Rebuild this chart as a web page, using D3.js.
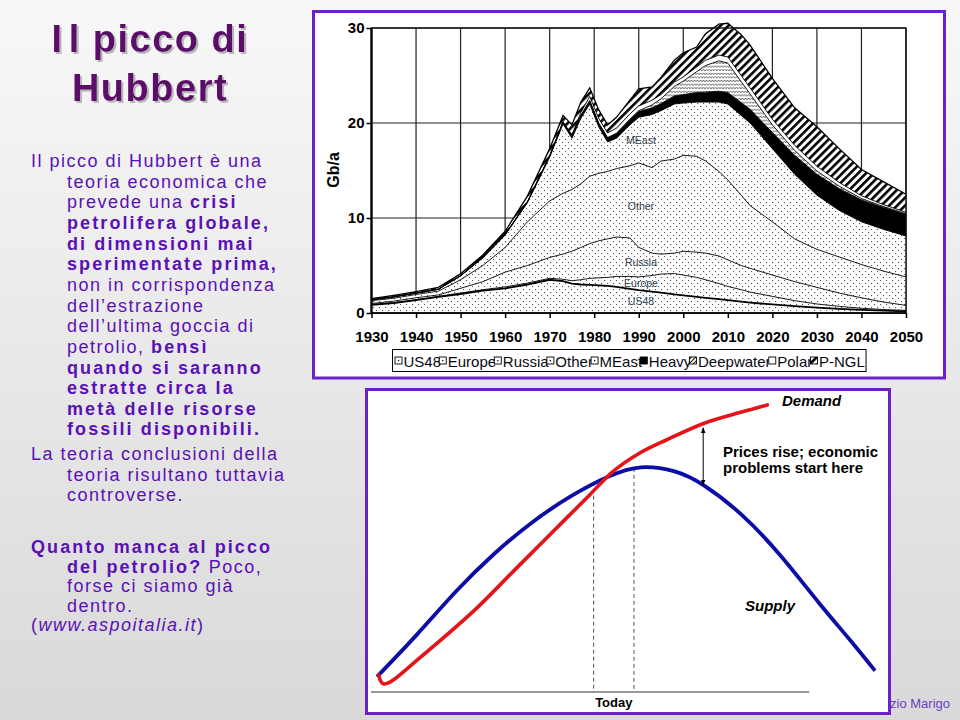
<!DOCTYPE html>
<html><head><meta charset="utf-8">
<script src="https://cdn.jsdelivr.net/npm/d3@7/dist/d3.min.js"></script>
<style>
html,body{margin:0;padding:0;background:#fff;}
svg{display:block;font-family:"Liberation Sans",Arial,sans-serif;}
</style></head><body>
<svg id="slide" width="960" height="720"></svg>
<script>
// ---------------- DATA: world oil production (Gb/a) by layer ----------------
const years     = [1930,1935,1940,1945,1950,1955,1960,1965,1970,1973,1975,1977,1979,1981,1983,1985,1988,1990,1993,1995,1998,2000,2003,2005,2008,2010,2013,2015,2020,2025,2030,2035,2040,2045,2050];
const us48      = [0.85,1.05,1.35,1.7,2.0,2.35,2.6,3.0,3.5,3.35,3.1,3.0,2.95,2.9,2.85,2.75,2.55,2.4,2.25,2.15,1.95,1.85,1.7,1.6,1.45,1.35,1.2,1.1,0.9,0.72,0.56,0.43,0.33,0.25,0.18];
const europe    = [0.05,0.05,0.05,0.05,0.1,0.1,0.15,0.15,0.15,0.2,0.3,0.5,0.7,0.8,0.9,1.1,1.3,1.4,1.7,1.95,2.2,2.15,2.05,1.9,1.65,1.45,1.25,1.1,0.85,0.58,0.39,0.27,0.17,0.11,0.1];
const russia    = [0.1,0.15,0.2,0.15,0.5,0.85,1.55,1.85,2.2,2.65,3.1,3.4,3.65,3.9,4.05,4.15,4.05,3.1,2.35,2.1,2.15,2.5,2.65,2.8,2.9,2.8,2.55,2.5,2.25,2.0,1.75,1.4,1.1,0.79,0.52];
const other     = [0.3,0.3,0.35,0.4,0.9,1.7,2.6,4.6,5.95,6.4,6.5,6.7,7.1,7.1,7.1,7.2,7.6,8.9,9.0,9.8,9.9,10.1,10.1,9.7,8.9,8.4,7.4,6.6,5.6,4.5,4.0,3.8,3.5,3.25,3.0];
const meast     = [0.1,0.15,0.15,0.2,0.4,0.8,1.3,2.0,4.6,7.3,5.4,6.9,7.6,4.9,3.1,3.2,4.3,4.8,5.6,5.3,5.8,5.5,5.7,6.2,7.3,8.0,8.4,8.7,7.7,6.8,5.7,4.9,4.5,4.4,4.3];
const heavy     = [0,0,0,0,0.02,0.05,0.05,0.1,0.15,0.2,0.25,0.3,0.35,0.4,0.45,0.5,0.55,0.6,0.7,0.75,0.85,0.9,1.0,1.05,1.15,1.2,1.35,1.45,1.7,2.0,2.2,2.3,2.3,2.3,2.3];
const deepwater = [0,0,0,0,0,0,0,0,0,0,0,0,0,0,0,0,0.05,0.1,0.3,0.5,1.0,1.4,2.2,2.8,3.2,3.1,2.2,1.6,0.8,0.5,0.35,0.25,0.15,0.1,0.05];
const polar     = [0,0,0,0,0,0,0,0,0,0,0.1,0.3,0.45,0.5,0.5,0.55,0.55,0.5,0.5,0.45,0.45,0.45,0.5,0.55,0.6,0.65,0.65,0.65,0.6,0.55,0.5,0.4,0.3,0.2,0.15];
const pngl      = [0.1,0.15,0.15,0.2,0.2,0.25,0.35,0.6,0.75,0.7,1.05,1.1,0.9,0.9,0.85,1.15,1.45,1.8,1.4,1.8,2.3,2.55,2.1,2.8,3.25,3.55,4.3,4.5,4.3,3.95,4.15,3.55,2.75,2.4,1.9];
const layerNames  = ["US48","Europe","Russia","Other","MEast","Heavy","Deepwater","Polar","P-NGL"];
const layerLabels = ["US48","Europe","Russia","Other","MEast"];
const labelYear = 1990.5;
const xTicks = [1930,1940,1950,1960,1970,1980,1990,2000,2010,2020,2030,2040,2050];
const yTicks = [0,10,20,30];

// ---------------- DATA: supply / demand sketch ----------------
const supplyT = [0,8.1,15.8,23.5,31.2,38.8,46.5,53,59.6,65.7,73.4,81.1,88.8,94.9,100];
const supplyV = [5.1,19.3,33.4,46.0,56.6,65.1,71.8,74.9,73.6,68.8,58.8,45.3,29.6,17.5,7.1];
const demandT = [0.4,0.7,1.3,2.7,8.1,19.6,27.3,35,42.7,47.3,52.7,58.1,65.7,73.4,78.4];
const demandV = [5.7,3.7,2.7,3.4,10.7,27.3,40.1,52.9,65.7,73.4,79.6,84,89.6,93.4,95.7];
const todayT  = [43.5,51.6];
const todayV  = [70.1,74.7];
const gapT = 65.5, gapDemand = 88.4, gapSupply = 68.7;
const baseT = [-1.2, 86.8];

// ---------------- TEXT ----------------
const titleLines = ["Il picco di","Hubbert"];
const body1 = [
 [0,[["Il picco di Hubbert è una",0]]],
 [1,[["teoria economica che",0]]],
 [1,[["prevede una ",0],["crisi",1]]],
 [1,[["petrolifera globale,",1]]],
 [1,[["di dimensioni mai",1]]],
 [1,[["sperimentate prima,",1]]],
 [1,[["non in corrispondenza",0]]],
 [1,[["dell’estrazione",0]]],
 [1,[["dell’ultima goccia di",0]]],
 [1,[["petrolio, ",0],["bensì",1]]],
 [1,[["quando si saranno",1]]],
 [1,[["estratte circa la",1]]],
 [1,[["metà delle risorse",1]]],
 [1,[["fossili disponibili.",1]]]
];
const body2 = [
 [0,[["La teoria conclusioni della",0]]],
 [1,[["teoria risultano tuttavia",0]]],
 [1,[["controverse.",0]]]
];
const body3 = [
 [0,[["Quanto manca al picco",1]]],
 [1,[["del petrolio?",1],[" Poco,",0]]],
 [1,[["forse ci siamo già",0]]],
 [1,[["dentro.",0]]],
 [0,[["(",0],["www.aspoitalia.it",2],[")",0]]]
];

// ================= DRAW =================
const svg = d3.select("#slide");
const defs = svg.append("defs");

const bg = defs.append("linearGradient").attr("id","bg").attr("x1",0).attr("y1",0).attr("x2",0).attr("y2",1);
bg.append("stop").attr("offset","0").attr("stop-color","#f8f8f8");
bg.append("stop").attr("offset","1").attr("stop-color","#d9d9d9");
svg.append("rect").attr("width",960).attr("height",720).attr("fill","url(#bg)");

const shadow = defs.append("filter").attr("id","shadow").attr("x","-10%").attr("y","-10%").attr("width","130%").attr("height","130%");
shadow.append("feDropShadow").attr("dx",2).attr("dy",2).attr("stdDeviation",0.6).attr("flood-color","#b8b8b8").attr("flood-opacity",1);

// patterns
const pDots = defs.append("pattern").attr("id","dots").attr("patternUnits","userSpaceOnUse").attr("width",6).attr("height",6);
pDots.append("rect").attr("width",6).attr("height",6).attr("fill","#fff");
pDots.append("rect").attr("x",1).attr("y",1).attr("width",1.1).attr("height",1.1).attr("fill","#555");
pDots.append("rect").attr("x",4).attr("y",4).attr("width",1.1).attr("height",1.1).attr("fill","#555");
const pWave = defs.append("pattern").attr("id","wave").attr("patternUnits","userSpaceOnUse").attr("width",6).attr("height",3.6);
pWave.append("rect").attr("width",6).attr("height",3.6).attr("fill","#fff");
pWave.append("path").attr("d","M0,2.6 L1.5,0.9 L3,2.6 L4.5,0.9 L6,2.6").attr("fill","none").attr("stroke","#222").attr("stroke-width",0.7);
const pHatch = defs.append("pattern").attr("id","hatch").attr("patternUnits","userSpaceOnUse").attr("width",5.6).attr("height",5.6).attr("patternTransform","rotate(45)");
pHatch.append("rect").attr("width",5.6).attr("height",5.6).attr("fill","#fff");
pHatch.append("rect").attr("width",2.6).attr("height",5.6).attr("fill","#000");
const pHatch2 = defs.append("pattern").attr("id","hatch2").attr("patternUnits","userSpaceOnUse").attr("width",3).attr("height",3).attr("patternTransform","rotate(45)");
pHatch2.append("rect").attr("width",3).attr("height",3).attr("fill","#fff");
pHatch2.append("rect").attr("width",0.9).attr("height",3).attr("fill","#000");
const fills = ["url(#dots)","url(#dots)","url(#dots)","url(#dots)","url(#dots)","#000","url(#wave)","#fff","url(#hatch)"];

// ---------- title ----------
const titleG = svg.append("g").attr("font-weight","bold").attr("font-size",38).attr("text-anchor","middle")
  .attr("letter-spacing",1.5).attr("fill","#5b0b6b").attr("filter","url(#shadow)");
titleLines.forEach((t,i)=>{
  const tx = titleG.append("text").attr("x",150).attr("y",52+i*49);
  if(i===0){ tx.append("tspan").text("I"); tx.append("tspan").attr("dx",5).text("l picco di"); }
  else tx.text(t);
});

// ---------- body text ----------
function writeBlock(lines, y0, step){
  const g = svg.append("g").attr("font-size",18).attr("fill","#5a10b6");
  lines.forEach(([ind,segs],i)=>{
    const t = g.append("text").attr("x", ind ? 67 : 31).attr("y", y0 + i*step);
    segs.forEach(([s,st])=>{
      const ts = t.append("tspan").text(s);
      if(st===1) ts.attr("font-weight","bold").attr("letter-spacing",2.1);
      else ts.attr("letter-spacing",1.5);
      if(st===2) ts.attr("font-style","italic");
    });
  });
}
writeBlock(body1, 167, 20.65);
writeBlock(body2, 460, 20.7);
writeBlock(body3, 553, 19.5);

// ---------- footer (partly hidden behind lower panel) ----------
svg.append("text").attr("x",950).attr("y",708).attr("text-anchor","end").attr("font-size",13).attr("fill","#6a3dc8").text("Fabrizio Marigo");

// ================= TOP CHART =================
svg.append("rect").attr("x",313.5).attr("y",11.5).attr("width",631).attr("height",366.5).attr("fill","#fff").attr("stroke","#6a22c8").attr("stroke-width",3);

const x = d3.scaleLinear().domain([1930,2050]).range([371.5,906]);
const y = d3.scaleLinear().domain([0,30]).range([313,28]);

const series = [us48,europe,russia,other,meast,heavy,deepwater,polar,pngl];
const rows = years.map((yr,i)=>{ const r={year:yr}; layerNames.forEach((k,j)=>r[k]=series[j][i]); return r; });
const stacked = d3.stack().keys(layerNames)(rows);

const topG = svg.append("g");
// grid
topG.append("g").selectAll("line").data(xTicks).join("line")
  .attr("x1",d=>x(d)).attr("x2",d=>x(d)).attr("y1",y(0)).attr("y2",y(30)).attr("stroke","#222").attr("stroke-width",1.2);
topG.append("g").selectAll("line").data(yTicks).join("line")
  .attr("x1",x(1930)).attr("x2",x(2050)).attr("y1",d=>y(d)).attr("y2",d=>y(d)).attr("stroke","#222").attr("stroke-width",1.2);

// areas
const area = d3.area().x(d=>x(d.data.year)).y0(d=>y(d[0])).y1(d=>y(d[1]));
topG.append("g").selectAll("path").data(stacked).join("path")
  .attr("d",area).attr("fill",(d,i)=>fills[i]);
// boundaries
const line = d3.line().x(d=>x(d.data.year)).y(d=>y(d[1]));
topG.append("g").selectAll("path").data(stacked).join("path")
  .attr("d",line).attr("fill","none").attr("stroke","#000")
  .attr("stroke-width",(d,i)=> i===0 ? 1.8 : (i===stacked.length-1 ? 1.3 : 0.9));

// in-chart labels
const li = years.findIndex(v=>v>=labelYear);
topG.append("g").selectAll("text").data(layerLabels).join("text")
  .attr("x",x(labelYear)).attr("text-anchor","middle").attr("font-size",10.5).attr("fill","#2e4352")
  .attr("y",(d,i)=>{
    const a = stacked[i][li-1], b = stacked[i][li];
    const t = (labelYear - a.data.year)/(b.data.year - a.data.year);
    const lo = a[0]+(b[0]-a[0])*t, hi = a[1]+(b[1]-a[1])*t;
    return y((lo+hi)/2)+3.5;
  }).text(d=>d);

// frame
topG.append("rect").attr("x",x(1930)).attr("y",y(30)).attr("width",x(2050)-x(1930)).attr("height",y(0)-y(30))
  .attr("fill","none").attr("stroke","#111").attr("stroke-width",1.4);
topG.append("line").attr("x1",x(1930)).attr("x2",x(1930)).attr("y1",y(30)).attr("y2",y(0)+1).attr("stroke","#000").attr("stroke-width",2.2);
topG.append("line").attr("x1",x(1930)).attr("x2",x(2050)).attr("y1",y(0)).attr("y2",y(0)).attr("stroke","#000").attr("stroke-width",1.6);

// axes
const yAxis = d3.axisLeft(y).tickValues(yTicks).tickSize(5).tickPadding(2);
const gy = topG.append("g").attr("transform",`translate(${x(1930)},0)`).call(yAxis);
gy.select(".domain").remove();
gy.selectAll("line").attr("stroke","#000").attr("stroke-width",1.5);
gy.selectAll("text").attr("font-size",15).attr("font-weight","bold").attr("fill","#000").attr("font-family","Liberation Sans, Arial, sans-serif");
const xAxis = d3.axisBottom(x).tickValues(xTicks).tickFormat(d3.format("d")).tickSize(5).tickPadding(13);
const gx = topG.append("g").attr("transform",`translate(0,${y(0)})`).call(xAxis);
gx.select(".domain").remove();
gx.selectAll("line").attr("stroke","#000").attr("stroke-width",1.5);
gx.selectAll("text").attr("font-size",15).attr("font-weight","bold").attr("fill","#000").attr("font-family","Liberation Sans, Arial, sans-serif");

topG.append("text").attr("transform","translate(339,170) rotate(-90)").attr("text-anchor","middle")
  .attr("font-size",16).attr("font-weight","bold").text("Gb/a");

// legend
const legG = topG.append("g");
const legBox = legG.append("rect").attr("y",349.5).attr("height",22).attr("fill","#fff").attr("stroke","#000").attr("stroke-width",1);
let lx = 395;
const iconFill = ["#fff","#fff","#fff","#fff","#fff","#000","url(#hatch2)","#fff","url(#hatch)"];
const legIcons = [];
layerNames.forEach((n,i)=>{
  const txt = legG.append("text").attr("x",lx+8.5).attr("y",366.5).attr("font-size",15).attr("fill","#0a0a14").text(n);
  const w = txt.node().getComputedTextLength();
  const ic = legG.append("g");
  ic.append("rect").attr("x",lx).attr("y",357).attr("width",7).attr("height",7).attr("fill",iconFill[i]).attr("stroke","#000").attr("stroke-width",0.9);
  if(i<5) ic.append("rect").attr("x",lx+2.9).attr("y",359.9).attr("width",1.3).attr("height",1.3).attr("fill","#000");
  legIcons.push(ic);
  lx += 8.5 + w - 1.8;
});
legBox.attr("x",392.5).attr("width",lx+3-392.5);
legIcons.forEach(ic=>ic.raise());

// ================= BOTTOM CHART =================
svg.append("rect").attr("x",366.5).attr("y",389.5).attr("width",523).attr("height",324).attr("fill","#fff").attr("stroke","#6a22c8").attr("stroke-width",3);
const bx = d3.scaleLinear().domain([0,100]).range([377,875]);
const by = d3.scaleLinear().domain([0,100]).range([692,392]);
const bot = svg.append("g");
bot.append("line").attr("x1",bx(baseT[0])).attr("x2",bx(baseT[1])).attr("y1",by(0)).attr("y2",by(0)).attr("stroke","#777").attr("stroke-width",1.5);
bot.selectAll("line.today").data(todayT).join("line").attr("class","today")
  .attr("x1",d=>bx(d)).attr("x2",d=>bx(d)).attr("y1",(d,i)=>by(todayV[i])).attr("y2",by(0))
  .attr("stroke","#555").attr("stroke-width",1).attr("stroke-dasharray","4,3");

const supplyLine = d3.line().x(d=>bx(d[0])).y(d=>by(d[1])).curve(d3.curveNatural);
const demandLine = d3.line().x(d=>bx(d[0])).y(d=>by(d[1])).curve(d3.curveCatmullRom.alpha(0.5));
bot.append("path").attr("d",supplyLine(supplyT.map((t,i)=>[t,supplyV[i]]))).attr("fill","none").attr("stroke","#0c0ca6").attr("stroke-width",3.8);
bot.append("path").attr("d",demandLine(demandT.map((t,i)=>[t,demandV[i]]))).attr("fill","none").attr("stroke","#e3141a").attr("stroke-width",3.6).attr("stroke-linecap","round");

defs.append("marker").attr("id","arr").attr("viewBox","0 0 10 10").attr("refX",9).attr("refY",5)
  .attr("markerWidth",6).attr("markerHeight",6).attr("orient","auto-start-reverse")
  .append("path").attr("d","M0,1 L10,5 L0,9 z").attr("fill","#000");
bot.append("line").attr("x1",bx(gapT)).attr("x2",bx(gapT)).attr("y1",by(gapDemand)+1).attr("y2",by(gapSupply)-1)
  .attr("stroke","#000").attr("stroke-width",1).attr("marker-start","url(#arr)").attr("marker-end","url(#arr)");

const bt = bot.append("g").attr("font-weight","bold").attr("fill","#000");
bt.append("text").attr("x",782).attr("y",406).attr("font-size",15).attr("font-style","italic").text("Demand");
bt.append("text").attr("x",723).attr("y",457).attr("font-size",15).text("Prices rise; economic");
bt.append("text").attr("x",723).attr("y",473).attr("font-size",15).text("problems start here");
bt.append("text").attr("x",745).attr("y",611).attr("font-size",15).attr("font-style","italic").text("Supply");
bt.append("text").attr("x",bx((todayT[0]+todayT[1])/2)).attr("y",707).attr("font-size",13).attr("text-anchor","middle").text("Today");
</script>
</body></html>
